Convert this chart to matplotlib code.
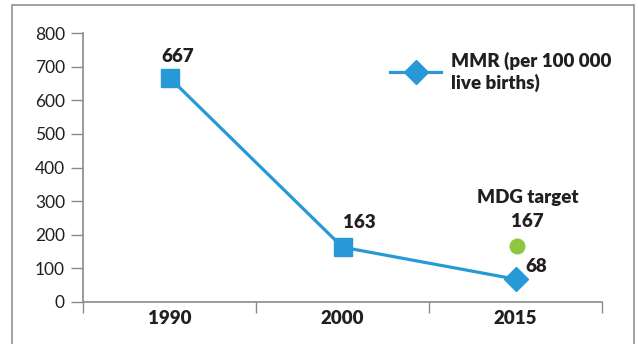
import matplotlib
matplotlib.use("Agg")
import matplotlib.pyplot as plt
from matplotlib.lines import Line2D
from matplotlib.patches import Rectangle

years = ["1990", "2000", "2015"]
mmr = [667, 163, 68]
target_label = "MDG target"
target_value = 167
yticks = [0, 100, 200, 300, 400, 500, 600, 700, 800]

blue = "#2799d6"
green = "#8dc63f"
grey = "#8a8a8a"
txt = "#231f20"

plt.rcParams['font.family'] = ['Lato', 'DejaVu Sans']
BW = 'heavy'
FS = 13.5

fig = plt.figure(figsize=(6.38, 3.44), dpi=100)
ax = fig.add_axes([83/638, 1-302/344, (602-83)/638, (302-33)/344])

x = list(range(len(years)))
ax.plot(x, mmr, color=blue, lw=2.3, zorder=3)
ax.plot(x[:2], mmr[:2], 's', color=blue, ms=12.5, zorder=4)
ax.plot(x[2:], mmr[2:], 'D', color=blue, ms=12.5, zorder=4)
ax.plot([x[2] + 0.01], [target_value], 'o', color=green, ms=10.5, zorder=4)

ax.set_xlim(-0.5, 2.5)
ax.set_ylim(0, 800)
ax.set_yticks(yticks)
ax.set_yticklabels([str(v) for v in yticks], fontsize=12.5, color=txt)
ax.set_xticks(x)
ax.set_xticklabels(years, fontsize=FS, fontweight=BW, color=txt)
ax.set_xticks([-0.5, 0.5, 1.5, 2.5], minor=True)
ax.tick_params(axis='x', which='major', length=0, pad=6)
ax.tick_params(axis='x', which='minor', length=8, color=grey, width=1, direction='out')
ax.tick_params(axis='y', length=9, color=grey, width=1, pad=4)

for s in ['top', 'right']:
    ax.spines[s].set_visible(False)
for s in ['left', 'bottom']:
    ax.spines[s].set_color(grey)
    ax.spines[s].set_linewidth(1.2)

# data labels
positions = [(0.05, 729), (1.095, 235), (2.118, 107)]
for (px, py), v in zip(positions, mmr):
    ax.text(px, py, str(v), fontsize=FS, fontweight=BW,
            color=txt, ha='center', va='center')
ax.text(2.07, 312, target_label, fontsize=FS, fontweight=BW,
        color=txt, ha='center', va='center')
ax.text(2.07, 238, str(target_value), fontsize=FS, fontweight=BW,
        color=txt, ha='center', va='center')

handle = Line2D([], [], color=blue, lw=2.3, marker='D', ms=12.5)
leg = ax.legend([handle], ["MMR (per 100 000\nlive births)"],
                loc='upper left', bbox_to_anchor=(381/638, 1-42/344),
                bbox_transform=fig.transFigure, frameon=False,
                handlelength=2.7, handletextpad=0.55, borderpad=0,
                prop={'size': FS, 'weight': BW})
for t in leg.get_texts():
    t.set_color(txt)
    t.set_linespacing(1.25)

fig.patches.append(Rectangle((12/638, -0.1), 622/638, 1.1 - 5/344,
                             transform=fig.transFigure, fill=False,
                             edgecolor='#9a9a9a', lw=1.3))

fig.savefig("out.png", dpi=100)
